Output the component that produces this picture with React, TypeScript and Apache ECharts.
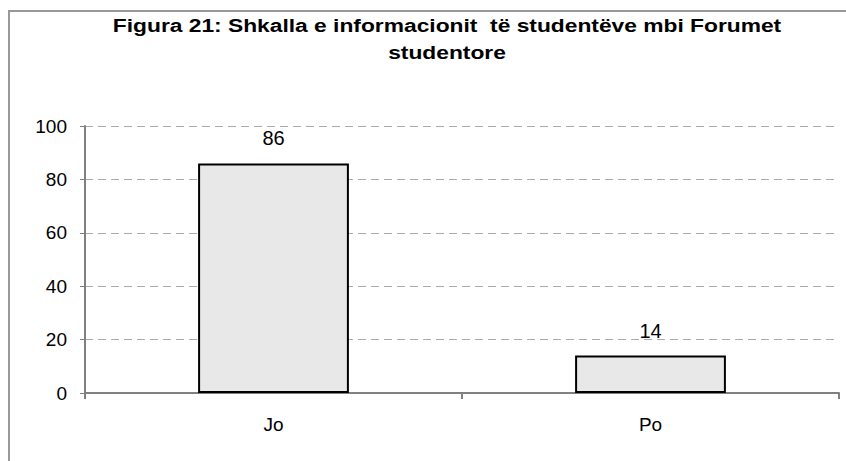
import React, { useEffect, useRef } from "react";
import * as echarts from "echarts";

const titleText = "Figura 21: Shkalla e informacionit  të studentëve mbi Forumet\nstudentore";
const categories = ["Jo", "Po"];
const values = [86, 14];
const yMin = 0;
const yMax = 100;
const yInterval = 20;

export default function App() {
  const ref = useRef<HTMLDivElement>(null);
  useEffect(() => {
    if (!ref.current) return;
    const chart = echarts.init(ref.current, undefined, { renderer: "svg" });
    const font = "'Liberation Sans', Arial, sans-serif";
    chart.setOption({
      animation: false,
      backgroundColor: "#ffffff",
      graphic: [
        {
          type: "polyline",
          shape: { points: [[9, 470], [9, 11], [860, 11]] },
          style: { stroke: "#999999", lineWidth: 2, fill: null },
          silent: true,
        },
        {
          type: "text",
          x: 447,
          y: 12,
          scaleX: 1.2,
          scaleY: 1,
          silent: true,
          style: {
            text: titleText,
            textAlign: "center",
            textVerticalAlign: "top",
            fontFamily: font,
            fontWeight: "bold",
            fontSize: 19,
            lineHeight: 27,
            fill: "#000000",
          },
        },
      ],
      grid: { left: 85, right: 7, top: 126, bottom: 68, containLabel: false },
      xAxis: {
        type: "category",
        data: categories,
        boundaryGap: true,
        axisLine: { show: true, lineStyle: { color: "#808080", width: 2 } },
        axisTick: { show: true, length: 6, lineStyle: { color: "#808080", width: 2 } },
        axisLabel: { margin: 22, fontFamily: font, fontSize: 19, color: "#000000" },
      },
      yAxis: {
        type: "value",
        min: yMin,
        max: yMax,
        interval: yInterval,
        axisLine: { show: true, lineStyle: { color: "#808080", width: 2 } },
        axisTick: { show: true, length: 5, lineStyle: { color: "#808080", width: 1 } },
        axisLabel: { margin: 18, fontFamily: font, fontSize: 19, color: "#000000" },
        splitLine: { show: true, lineStyle: { color: "#aaaaaa", type: [8, 5], width: 1 } },
      },
      series: [
        {
          type: "bar",
          data: values,
          barWidth: "40%",
          itemStyle: { color: "#e8e8e8", borderColor: "#000000", borderWidth: 2 },
          label: {
            show: true,
            position: "top",
            distance: 15,
            fontFamily: font,
            fontSize: 20,
            color: "#000000",
          },
        },
      ],
    });
    return () => chart.dispose();
  }, []);
  return (
    <div
      ref={ref}
      style={{ position: "fixed", left: 0, top: 0, width: 846, height: 461 }}
    />
  );
}
